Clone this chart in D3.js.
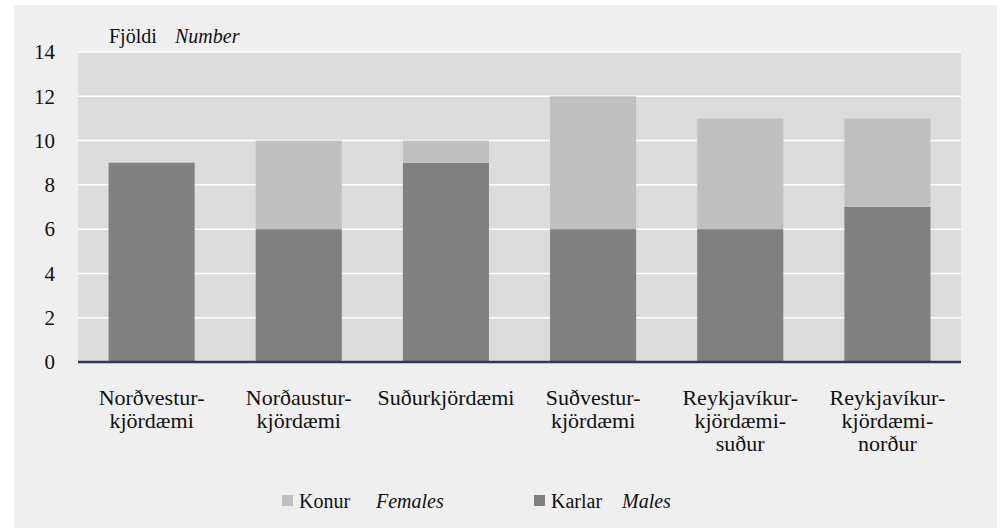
<!DOCTYPE html>
<html>
<head>
<meta charset="utf-8">
<script src="https://cdn.jsdelivr.net/npm/d3@7"></script>
</head>
<body style="margin:0">
<script>
// data
var categories = [
    ['Norðvestur-', 'kjördæmi'],
    ['Norðaustur-', 'kjördæmi'],
    ['Suðurkjördæmi'],
    ['Suðvestur-', 'kjördæmi'],
    ['Reykjavíkur-', 'kjördæmi-', 'suður'],
    ['Reykjavíkur-', 'kjördæmi-', 'norður']
];
var males = [9, 6, 9, 6, 6, 7];
var females = [0, 4, 1, 6, 5, 4];
var yTicks = [0, 2, 4, 6, 8, 10, 12, 14];

var serif = "'Liberation Serif'";
var width = 1002, height = 528;
var margin = {top: 52, right: 41, bottom: 166, left: 78};
var innerW = width - margin.left - margin.right,
    innerH = height - margin.top - margin.bottom;

var svg = d3.select('body').append('svg')
    .attr('width', width)
    .attr('height', height);

// outer panel
svg.append('rect')
    .attr('x', 14).attr('y', 5)
    .attr('width', 983).attr('height', 523)
    .attr('fill', '#efefef');

var g = svg.append('g')
    .attr('transform', 'translate(' + margin.left + ',' + margin.top + ')');

var x = d3.scaleBand()
    .domain(d3.range(categories.length))
    .range([0, innerW])
    .paddingInner(0.415)
    .paddingOuter(0.2075);

var y = d3.scaleLinear().domain([0, 14]).range([innerH, 0]);

// plot background
g.append('rect')
    .attr('width', innerW).attr('height', innerH)
    .attr('fill', '#dcdcdc');

// gridlines
g.selectAll('line.grid')
    .data(yTicks.filter(function(d) { return d > 0; }))
    .enter().append('line')
    .attr('class', 'grid')
    .attr('x1', 0).attr('x2', innerW)
    .attr('y1', function(d) { return y(d); })
    .attr('y2', function(d) { return y(d); })
    .attr('stroke', '#ffffff')
    .attr('stroke-width', 1.5);

// stacked bars
var stackData = males.map(function(m, i) { return {i: i, males: m, females: females[i]}; });
var series = d3.stack().keys(['males', 'females'])(stackData);
var colors = {males: '#808080', females: '#c0c0c0'};

g.selectAll('g.series')
    .data(series)
    .enter().append('g')
    .attr('fill', function(s) { return colors[s.key]; })
    .selectAll('rect')
    .data(function(s) { return s; })
    .enter().append('rect')
    .attr('x', function(d) { return x(d.data.i); })
    .attr('width', x.bandwidth())
    .attr('y', function(d) { return y(d[1]); })
    .attr('height', function(d) { return y(d[0]) - y(d[1]); });

// baseline
g.append('line')
    .attr('x1', 0).attr('x2', innerW)
    .attr('y1', innerH).attr('y2', innerH)
    .attr('stroke', '#2b3a55')
    .attr('stroke-width', 2.5);

// y axis labels
var yAxis = d3.axisLeft(y).tickValues(yTicks).tickSize(0).tickPadding(23);
var ya = g.append('g').call(yAxis);
ya.attr('font-family', null).attr('font-size', null);
ya.select('.domain').remove();
ya.selectAll('text')
    .style('font-family', serif)
    .style('font-size', '21px')
    .attr('fill', '#111');

// y title
svg.append('text')
    .attr('x', 109).attr('y', 43)
    .style('font-family', serif)
    .style('font-size', '20px')
    .attr('fill', '#111')
    .text('Fjöldi');
svg.append('text')
    .attr('x', 175).attr('y', 43)
    .style('font-family', serif)
    .style('font-size', '20px')
    .style('font-style', 'italic')
    .attr('fill', '#111')
    .text('Number');

// category labels
var cl = g.selectAll('text.cat')
    .data(categories)
    .enter().append('text')
    .attr('class', 'cat')
    .attr('text-anchor', 'middle')
    .style('font-family', serif)
    .style('font-size', '22px')
    .attr('fill', '#111')
    .attr('transform', function(d, i) { return 'translate(' + (x(i) + x.bandwidth() / 2) + ',' + (innerH + 43) + ')'; });
cl.selectAll('tspan')
    .data(function(d) { return d; })
    .enter().append('tspan')
    .attr('x', 0)
    .attr('dy', function(d, i) { return i === 0 ? 0 : 23; })
    .text(function(d) { return d; });

// legend
var legendItems = [
    {name: 'Konur', en: 'Females', color: '#c0c0c0', x: 282, enX: 94},
    {name: 'Karlar', en: 'Males', color: '#808080', x: 534, enX: 88}
];
var lg = svg.selectAll('g.legend')
    .data(legendItems)
    .enter().append('g')
    .attr('class', 'legend')
    .attr('transform', function(d) { return 'translate(' + d.x + ',495)'; });
lg.append('rect')
    .attr('width', 11).attr('height', 11)
    .attr('fill', function(d) { return d.color; });
lg.append('text')
    .attr('x', 17).attr('y', 12.5)
    .style('font-family', serif)
    .style('font-size', '20px')
    .attr('fill', '#111')
    .text(function(d) { return d.name; });
lg.append('text')
    .attr('x', function(d) { return d.enX; }).attr('y', 12.5)
    .style('font-family', serif)
    .style('font-size', '20px')
    .style('font-style', 'italic')
    .attr('fill', '#111')
    .text(function(d) { return d.en; });
</script>
</body>
</html>
